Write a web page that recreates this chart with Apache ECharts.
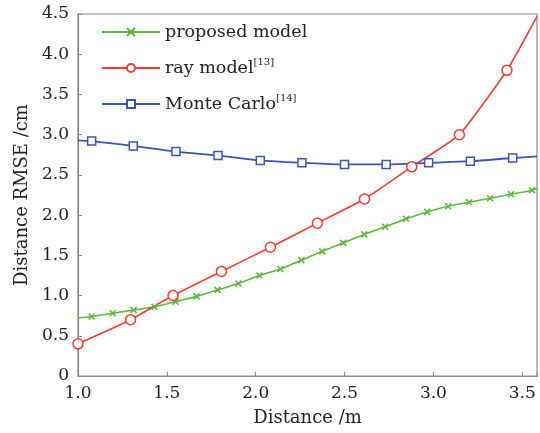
<!DOCTYPE html>
<html><head><meta charset="utf-8">
<script src="https://cdn.jsdelivr.net/npm/echarts@6/dist/echarts.min.js"></script>
<style>html,body{margin:0;padding:0;background:#fff}#c{width:540px;height:433px}</style>
</head><body><div id="c"></div>
<script>
var proposedX = [1.0, 1.077, 1.195, 1.313, 1.431, 1.549, 1.667, 1.785, 1.903, 2.021, 2.139, 2.257, 2.375, 2.493, 2.611, 2.729, 2.847, 2.965, 3.083, 3.201, 3.319, 3.437, 3.555, 3.583];
var proposedY = [0.72, 0.74, 0.78, 0.82, 0.86, 0.925, 0.99, 1.07, 1.15, 1.25, 1.33, 1.44, 1.55, 1.655, 1.76, 1.855, 1.955, 2.04, 2.11, 2.16, 2.21, 2.26, 2.31, 2.33];
var rayX = [1.0, 1.296, 1.535, 1.807, 2.083, 2.347, 2.612, 2.878, 3.146, 3.414, 3.583];
var rayY = [0.4, 0.7, 1.0, 1.3, 1.6, 1.9, 2.2, 2.6, 3.0, 3.8, 4.47];
var monteX = [1.0, 1.077, 1.311, 1.551, 1.788, 2.026, 2.26, 2.5, 2.734, 2.973, 3.208, 3.446, 3.583];
var monteY = [2.93, 2.92, 2.86, 2.79, 2.74, 2.68, 2.65, 2.63, 2.63, 2.65, 2.67, 2.71, 2.73];
var seriesNames = ['proposed model', 'ray model', 'Monte Carlo'];
var seriesRefs = ['', '[13]', '[14]'];
var xTickLabels = ['1.0', '1.5', '2.0', '2.5', '3.0', '3.5'];
var yTickLabels = ['0', '0.5', '1.0', '1.5', '2.0', '2.5', '3.0', '3.5', '4.0', '4.5'];

var FONT = 'DejaVu Serif';
function pts(xs, ys, noMarkFirst, noMarkLast) {
  return xs.map(function (x, i) {
    var d = { value: [x, ys[i]] };
    if ((noMarkFirst && i === 0) || (noMarkLast && i === xs.length - 1)) d.symbol = 'none';
    return d;
  });
}
var chart = echarts.init(document.getElementById('c'), null, { renderer: 'canvas' });
var axisCommon = {
  axisLine: { show: true, onZero: false, lineStyle: { color: '#8a8a8a', width: 1.2 } },
  axisTick: { show: true, inside: true, length: 4, lineStyle: { color: '#8a8a8a' } },
  splitLine: { show: false },
  nameTextStyle: { fontFamily: FONT, fontSize: 18, color: '#222' },
  axisLabel: { fontFamily: FONT, fontSize: 17, color: '#222' }
};
chart.setOption({
  animation: false,
  backgroundColor: '#fff',
  grid: { left: 78, right: 2, top: 14, bottom: 57, show: true, borderColor: '#8a8a8a', borderWidth: 1.2 },
  legend: {
    orient: 'vertical', left: 96, top: 16, itemWidth: 58, itemHeight: 10, itemGap: 14,
    textStyle: { fontFamily: FONT, fontSize: 17.5, color: '#222', lineHeight: 22,
      rich: { s: { fontFamily: FONT, fontSize: 10, color: '#222', verticalAlign: 'top', lineHeight: 10, padding: [0, 0, 8, 0] } } },
    formatter: function (n) { var i = seriesNames.indexOf(n); return seriesRefs[i] ? n + '{s|' + seriesRefs[i] + '}' : n; },
    data: seriesNames
  },
  xAxis: Object.assign({}, axisCommon, {
    type: 'value', min: 1, max: 3.583, interval: 0.5,
    name: 'Distance /m', nameLocation: 'middle', nameGap: 33,
    axisLabel: Object.assign({}, axisCommon.axisLabel, { margin: 9,
      formatter: function (v) { var i = Math.round((v - 1) / 0.5); return (Math.abs(v - (1 + i * 0.5)) < 1e-6) ? xTickLabels[i] : ''; } })
  }),
  yAxis: Object.assign({}, axisCommon, {
    type: 'value', min: 0, max: 4.5, interval: 0.5,
    name: 'Distance RMSE /cm', nameLocation: 'middle', nameGap: 44,
    axisLabel: Object.assign({}, axisCommon.axisLabel, { margin: 9,
      formatter: function (v) { return yTickLabels[Math.round(v / 0.5)]; } })
  }),
  series: [
    { name: seriesNames[0], type: 'line', smooth: 0.3, data: pts(proposedX, proposedY, true, true),
      symbol: 'path://M0,0L10,10M10,0L0,10', symbolSize: 6,
      lineStyle: { color: '#5cb83e', width: 1.6 },
      itemStyle: { color: 'none', borderColor: '#5cb83e', borderWidth: 1.6 } },
    { name: seriesNames[1], type: 'line', smooth: 0.15, data: pts(rayX, rayY, false, true),
      symbol: 'circle', symbolSize: 10,
      lineStyle: { color: '#f43b32', width: 1.6 },
      itemStyle: { color: '#fff', borderColor: '#f43b32', borderWidth: 1.5 } },
    { name: seriesNames[2], type: 'line', smooth: 0.3, data: pts(monteX, monteY, true, true),
      symbol: 'rect', symbolSize: 8,
      lineStyle: { color: '#3a56b4', width: 1.8 },
      itemStyle: { color: '#fff', borderColor: '#3a56b4', borderWidth: 1.5 } }
  ]
});
</script></body></html>
